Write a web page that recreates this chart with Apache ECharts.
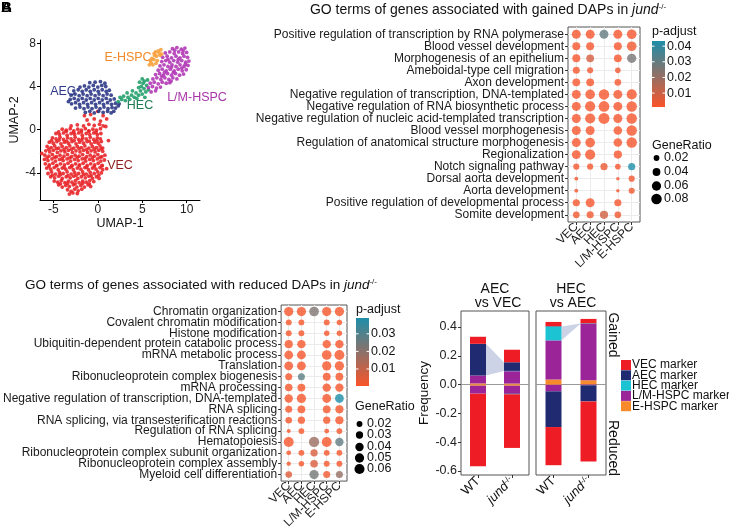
<!DOCTYPE html>
<html><head><meta charset="utf-8">
<script src="https://cdn.jsdelivr.net/npm/echarts@6/dist/echarts.min.js"></script>
<style>html,body{margin:0;padding:0;background:#fff}#c{width:729px;height:531px}</style>
</head><body><div id="c"></div><script>
const FONT='Liberation Sans, Arial, Helvetica, sans-serif';
// ---------- Panel A: UMAP ----------
const umapXTicks=[-5,0,5,10];
const umapYTicks=[-4,0,4,8];
const clusterNames=['VEC','AEC','HEC','L/M-HSPC','E-HSPC'];
const vecPts=[-3.4,-5.55,-3.0,-5.7,-2.6,-5.5,-2.2,-5.65,-1.8,-5.5,-2.8,-5.85,-2.3,-5.9,-3.2,-5.95,
-4.4,-5.1,-4.0,-5.3,-3.6,-5.15,-3.2,-5.25,-2.75,-5.1,-2.35,-5.3,-1.9,-5.15,-1.5,-5.3,-1.1,-5.1,-0.8,-5.25,
-4.9,-4.75,-4.5,-4.85,-4.1,-4.7,-3.7,-4.9,-3.3,-4.75,-2.9,-4.85,-2.5,-4.7,-2.1,-4.9,-1.7,-4.75,-1.3,-4.85,-0.9,-4.7,-0.45,-4.8,
-5.3,-4.35,-4.85,-4.45,-4.4,-4.3,-4.0,-4.5,-3.55,-4.35,-3.1,-4.45,-2.7,-4.3,-2.25,-4.5,-1.85,-4.35,-1.4,-4.45,-1.0,-4.3,-0.6,-4.5,-0.15,-4.35,0.15,-4.5,
-5.6,-4.05,-5.2,-3.9,-4.75,-4.1,-4.3,-3.95,-3.9,-4.05,-3.45,-3.9,-3.0,-4.1,-2.6,-3.95,-2.15,-4.05,-1.7,-3.9,-1.3,-4.1,-0.85,-3.95,-0.4,-4.05,0.0,-3.9,0.4,-4.0,
-5.75,-3.55,-5.3,-3.65,-4.9,-3.5,-4.45,-3.7,-4.0,-3.55,-3.6,-3.65,-3.15,-3.5,-2.75,-3.7,-2.3,-3.55,-1.9,-3.65,-1.45,-3.5,-1.05,-3.7,-0.6,-3.55,-0.2,-3.65,0.25,-3.5,0.55,-3.7,
-5.9,-3.15,-5.45,-3.25,-5.05,-3.1,-4.6,-3.3,-4.2,-3.15,-3.75,-3.25,-3.35,-3.1,-2.9,-3.3,-2.5,-3.15,-2.05,-3.25,-1.65,-3.1,-1.2,-3.3,-0.8,-3.15,-0.35,-3.25,0.05,-3.1,0.5,-3.3,
-6.0,-2.75,-5.6,-2.85,-5.15,-2.7,-4.75,-2.9,-4.3,-2.75,-3.9,-2.85,-3.45,-2.7,-3.05,-2.9,-2.6,-2.75,-2.2,-2.85,-1.75,-2.7,-1.35,-2.9,-0.9,-2.75,-0.5,-2.85,-0.05,-2.7,0.35,-2.9,0.75,-2.8,
-5.95,-2.35,-5.5,-2.45,-5.1,-2.3,-4.65,-2.5,-4.25,-2.35,-3.8,-2.45,-3.4,-2.3,-2.95,-2.5,-2.55,-2.35,-2.1,-2.45,-1.7,-2.3,-1.25,-2.5,-0.85,-2.35,-0.4,-2.45,0.0,-2.3,0.45,-2.5,0.8,-2.35,
-5.85,-1.95,-5.4,-2.05,-5.0,-1.9,-4.55,-2.1,-4.15,-1.95,-3.7,-2.05,-3.3,-1.9,-2.85,-2.1,-2.45,-1.95,-2.0,-2.05,-1.6,-1.9,-1.15,-2.1,-0.75,-1.95,-0.3,-2.05,0.1,-1.9,0.55,-2.0,
-5.7,-1.55,-5.25,-1.65,-4.85,-1.5,-4.4,-1.7,-4.0,-1.55,-3.55,-1.65,-3.15,-1.5,-2.7,-1.7,-2.3,-1.55,-1.85,-1.65,-1.45,-1.5,-1.0,-1.7,-0.6,-1.55,-0.15,-1.65,0.25,-1.5,0.55,-1.7,
-5.45,-1.15,-5.0,-1.25,-4.6,-1.1,-4.15,-1.3,-3.75,-1.15,-3.3,-1.25,-2.9,-1.1,-2.45,-1.3,-2.05,-1.15,-1.6,-1.25,-1.2,-1.1,-0.75,-1.3,-0.35,-1.15,0.05,-1.25,0.4,-1.1,
-5.1,-0.75,-4.7,-0.85,-4.25,-0.7,-3.85,-0.9,-3.4,-0.75,-3.0,-0.85,-2.55,-0.7,-2.15,-0.9,-1.7,-0.75,-1.3,-0.85,-0.85,-0.7,-0.45,-0.9,-0.05,-0.75,0.3,-0.85,
-4.7,-0.35,-4.3,-0.45,-3.85,-0.3,-3.45,-0.5,-3.0,-0.35,-2.6,-0.45,-2.15,-0.3,-1.75,-0.5,-1.3,-0.35,-0.9,-0.45,-0.45,-0.3,-0.05,-0.45,0.35,-0.35,
-4.0,0.05,-3.55,-0.05,-3.1,0.1,-2.7,-0.1,-2.25,0.05,-1.85,-0.05,-1.4,0.1,-1.0,-0.1,-0.55,0.05,-0.15,-0.05,0.3,0.1,
-3.0,0.35,-2.3,0.45,-1.6,0.35,-1.0,0.5,-0.4,0.4,0.2,0.5,0.6,0.35,
-1.2,0.9,-0.4,1.0,0.3,0.8,-0.8,1.4,0.6,1.3,0.0,1.7,-1.5,1.3,1.0,1.0,1.2,-1.0,1.0,-3.6,-6.3,-2.2,0.9,0.3,
-4.2,-5.0,-3.4,-4.95,-2.55,-5.0,-1.7,-4.95,-0.95,-5.0,
-5.1,-4.2,-4.2,-4.15,-3.35,-4.25,-2.45,-4.2,-1.6,-4.15,-0.75,-4.25,0.1,-4.2,
-5.5,-3.4,-4.65,-3.35,-3.8,-3.45,-2.95,-3.4,-2.1,-3.35,-1.25,-3.45,-0.4,-3.4,0.45,-3.35,
-5.7,-2.6,-4.85,-2.55,-4.0,-2.65,-3.15,-2.6,-2.3,-2.55,-1.45,-2.65,-0.6,-2.6,0.25,-2.55,
-5.5,-1.8,-4.65,-1.75,-3.8,-1.85,-2.95,-1.8,-2.1,-1.75,-1.25,-1.85,-0.4,-1.8,0.4,-1.75,
-5.2,-1.0,-4.35,-0.95,-3.5,-1.05,-2.65,-1.0,-1.8,-0.95,-0.95,-1.05,-0.1,-1.0,
-4.4,-0.2,-3.55,-0.15,-2.7,-0.25,-1.85,-0.2,-1.0,-0.15,-0.2,-0.25];
const aecPts=[-1.4,1.6,-0.9,1.7,-0.4,1.55,0.1,1.7,0.6,1.6,1.1,1.7,1.5,1.55,
-2.5,2.0,-2.0,2.1,-1.55,1.95,-1.1,2.1,-0.65,1.95,-0.2,2.1,0.25,1.95,0.7,2.1,1.15,1.95,1.6,2.05,2.0,2.0,
-2.95,2.4,-2.5,2.5,-2.05,2.35,-1.6,2.5,-1.15,2.35,-0.7,2.5,-0.25,2.35,0.2,2.5,0.65,2.35,1.1,2.5,1.55,2.35,2.0,2.45,2.4,2.4,
-3.1,2.8,-2.65,2.9,-2.2,2.75,-1.75,2.9,-1.3,2.75,-0.85,2.9,-0.4,2.75,0.05,2.9,0.5,2.75,0.95,2.9,1.4,2.75,1.85,2.85,
-3.0,3.2,-2.55,3.3,-2.1,3.15,-1.65,3.3,-1.2,3.15,-0.75,3.3,-0.3,3.15,0.15,3.3,0.6,3.15,1.05,3.3,1.5,3.2,
-2.7,3.6,-2.2,3.7,-1.75,3.55,-1.3,3.7,-0.85,3.55,-0.4,3.7,0.05,3.55,0.5,3.7,0.95,3.55,1.3,3.65,
-2.0,3.95,-1.5,4.05,-1.0,3.95,-0.5,4.1,0.0,3.95,0.45,4.1,0.9,4.0,
-0.9,4.35,-0.3,4.4,0.3,4.45,0.8,4.3,2.3,2.2,1.8,1.7,-3.3,2.6];
const hecPts=[2.3,2.6,2.7,2.8,3.1,2.7,2.9,3.1,3.4,3.0,3.8,3.2,3.6,2.8,4.1,3.0,4.3,3.4,4.6,3.2,4.8,3.6,5.0,3.3,5.2,3.8,4.9,4.0,5.4,3.5,5.1,4.3,5.5,4.1,4.6,3.9,5.3,3.0,4.4,2.9,5.6,4.6,5.0,4.7,3.9,3.6,3.3,3.4,2.5,3.0,5.7,3.7,4.7,4.4,5.25,4.5];
const lmPts=[8.4,7.5,8.9,7.6,9.4,7.45,9.8,7.55,
7.6,7.1,8.1,7.2,8.6,7.05,9.1,7.2,9.55,7.05,10.0,7.15,
7.3,6.7,7.8,6.8,8.3,6.65,8.8,6.8,9.25,6.65,9.7,6.8,10.1,6.7,
7.2,6.3,7.65,6.4,8.1,6.25,8.55,6.4,9.0,6.25,9.45,6.4,9.9,6.25,10.25,6.35,
7.0,5.9,7.45,6.0,7.9,5.85,8.35,6.0,8.8,5.85,9.25,6.0,9.7,5.85,10.15,5.95,
6.8,5.5,7.25,5.6,7.7,5.45,8.15,5.6,8.6,5.45,9.05,5.6,9.5,5.45,9.95,5.55,
6.5,5.1,6.95,5.2,7.4,5.05,7.85,5.2,8.3,5.05,8.75,5.2,9.2,5.05,9.65,5.15,
6.2,4.7,6.65,4.8,7.1,4.65,7.55,4.8,8.0,4.65,8.45,4.8,8.9,4.7,
5.9,4.3,6.35,4.4,6.8,4.25,7.25,4.4,7.7,4.3,8.1,4.35,
5.7,3.9,6.15,4.0,6.6,3.85,7.05,3.95,6.0,3.5,6.5,3.6,
8.65,7.35,9.6,7.3,7.9,6.5,9.05,6.5,8.3,5.8,9.45,5.7,7.5,5.3,8.5,5.3,9.85,6.05,7.2,4.95,8.25,4.5];
const ePts=[6.0,6.2,6.3,6.5,6.6,6.8,6.9,7.1,6.4,6.9,6.1,6.6,6.7,6.4,6.5,7.2,7.0,6.9,5.8,6.0,6.2,6.0,6.8,7.3,7.1,7.4,6.55,6.15,5.9,6.4,6.35,7.05,7.2,7.0];
const umapColors=['#E8262A','#2E3A87','#239E6C','#B23AB6','#F7A23E'];
const umapLabelColors=['#8E1B1B','#2E3A87','#1E7A50','#A834A8','#F08A2A'];

// ---------- Panel B / C: GO dot plots ----------
const cellTypes=['VEC','AEC','HEC','L/M-HSPC','E-HSPC'];
const gainedTerms=['Positive regulation of transcription by RNA polymerase','Blood vessel development','Morphogenesis of an epithelium','Ameboidal-type cell migration','Axon development','Negative regulation of transcription, DNA-templated','Negative regulation of RNA biosynthetic process','Negative regulation of nucleic acid-templated transcription','Blood vessel morphogenesis','Regulation of anatomical structure morphogenesis','Regionalization','Notch signaling pathway','Dorsal aorta development','Aorta development','Positive regulation of developmental process','Somite development'];
const gainedRatio=[
[0.055,0.055,0.055,0.055,0.066],
[0.042,0.042,null,0.042,0.066],
[0.042,0.040,null,0.040,0.060],
[0.031,0.023,null,0.019,null],
[0.040,0.040,null,0.028,null],
[0.055,0.066,0.080,0.055,0.075],
[0.055,0.075,0.085,0.055,0.080],
[0.055,0.075,0.090,0.055,0.080],
[0.055,0.055,null,0.050,0.080],
[0.055,0.066,null,0.050,0.080],
[0.055,0.075,null,0.045,null],
[0.023,0.023,0.033,0.019,0.033],
[0.010,null,null,0.009,0.023],
[0.010,null,null,0.009,0.023],
[0.033,0.055,null,0.033,null],
[0.028,0.033,0.045,0.028,null]];
const gainedPadj=[
[0.002,0.002,0.030,0.002,0.002],
[0.002,0.002,null,0.002,0.003],
[0.002,0.008,null,0.002,0.026],
[0.002,0.003,null,0.003,null],
[0.002,0.002,null,0.002,null],
[0.002,0.002,0.002,0.002,0.002],
[0.002,0.002,0.002,0.002,0.002],
[0.002,0.002,0.002,0.002,0.002],
[0.002,0.002,null,0.002,0.002],
[0.002,0.002,null,0.002,0.002],
[0.002,0.002,null,0.002,null],
[0.002,0.002,0.004,0.002,0.0433],
[0.002,null,null,0.002,0.003],
[0.002,null,null,0.002,0.003],
[0.002,0.002,null,0.002,null],
[0.003,0.003,0.009,0.003,null]];
const reducedTerms=['Chromatin organization','Covalent chromatin modification','Histone modification','Ubiquitin-dependent protein catabolic process','mRNA metabolic process','Translation','Ribonucleoprotein complex biogenesis','mRNA processing','Negative regulation of transcription, DNA-templated','RNA splicing','RNA splicing, via transesterification reactions','Regulation of RNA splicing','Hematopoiesis','Ribonucleoprotein complex subunit organization','Ribonucleoprotein complex assembly','Myeloid cell differentiation'];
const reducedRatio=[
[0.050,0.050,0.055,0.050,0.050],
[0.020,0.020,null,0.020,0.018],
[0.020,0.020,null,0.018,0.018],
[0.038,0.040,null,0.040,0.040],
[0.045,0.045,null,0.055,0.058],
[0.045,0.045,null,0.050,0.050],
[0.028,0.028,null,0.035,0.035],
[0.032,0.035,null,0.040,0.040],
[0.040,0.050,null,0.045,0.045],
[0.028,0.035,null,0.035,0.038],
[0.025,0.030,null,0.030,0.038],
[0.012,0.020,null,0.015,0.020],
[0.058,null,0.063,0.058,0.040],
[0.015,0.020,0.030,0.020,0.020],
[0.013,0.018,0.033,0.020,0.020],
[0.025,null,0.050,0.028,0.028]];
const reducedPadj=[
[0.001,0.001,0.022,0.001,0.001],
[0.001,0.001,null,0.001,0.001],
[0.001,0.001,null,0.001,0.001],
[0.001,0.001,null,0.001,0.001],
[0.001,0.001,null,0.001,0.001],
[0.001,0.001,null,0.001,0.001],
[0.001,0.028,null,0.001,0.001],
[0.001,0.001,null,0.001,0.001],
[0.001,0.001,null,0.001,0.039],
[0.001,0.001,null,0.001,0.001],
[0.001,0.001,null,0.001,0.001],
[0.001,0.001,null,0.001,0.001],
[0.001,null,0.017,0.001,0.027],
[0.001,0.001,0.006,0.001,0.001],
[0.001,0.001,0.006,0.001,0.001],
[0.005,null,0.024,0.002,0.018]];
const padjRangeB=[0.0011,0.0433], padjTicksB=[0.01,0.02,0.03,0.04], ratioTicksB=[0.02,0.04,0.06,0.08];
const padjRangeC=[0.0003,0.039], padjTicksC=[0.01,0.02,0.03], ratioTicksC=[0.02,0.03,0.04,0.05,0.06];

// ---------- Panel D: stacked frequencies ----------
const dGroups=['WT','jund'];
const dGroupSup=['','-/-'];
const markerNames=['VEC marker','AEC marker','HEC marker','L/M-HSPC marker','E-HSPC marker'];
const markerColors=['#EE1D25','#202A70','#1BC3D3','#9B2499','#F78A2A'];
// rows: VEC, AEC, HEC, L/M-HSPC, E-HSPC ; columns: WT, jund-/-
const aecVsVecGained=[[0.049,0.087],[0.220,0.060],[0.000,0.002],[0.055,0.086],[0.008,0.007]];
const aecVsVecReduced=[[-0.505,-0.372],[0,-0.005],[0,0],[-0.055,-0.055],[-0.008,-0.008]];
const hecVsAecGained=[[0.029,0.030],[0.003,0.002],[0.096,0.002],[0.272,0.392],[0.035,0.030]];
const hecVsAecReduced=[[-0.265,-0.418],[-0.248,-0.112],[0,0],[-0.045,-0.005],[-0.002,0]];
const dTicks=[-0.6,-0.4,-0.2,0,0.2,0.4];

// ---------- build ----------
const LOW='#FA5429', HIGH='#1E8EA9';
const sizeB=r=>2.5+8.5*Math.sqrt(Math.max(0,(r-0.008)/0.082));
const sizeC=r=>2.5+8*Math.sqrt(Math.max(0,(r-0.01)/0.056));
function pairs(a){const o=[];for(let i=0;i<a.length;i+=2)o.push([a[i],a[i+1]]);return o;}
function dots(ratio,padj){const o=[];ratio.forEach((row,i)=>row.forEach((r,j)=>{if(r!=null)o.push([j,i,r,padj[i][j]]);}));return o;}
const idx=n=>Array.from({length:n},(_,i)=>i);
// label positions padded with blank end entries so no real label is treated as the axis min/max label
const padded=n=>[-0.6].concat(idx(n),[n-0.4]);
const pick=(arr)=>v=>Number.isInteger(v)?(arr[v]||''):'';

const series=[];
[vecPts,aecPts,hecPts,lmPts,ePts].forEach((p,k)=>{
  series.push({type:'scatter',xAxisIndex:0,yAxisIndex:0,data:pairs(p),symbolSize:3.8,silent:true,
    itemStyle:{color:umapColors[k],opacity:0.9}});
});
const idxB=series.length;
series.push({type:'scatter',xAxisIndex:1,yAxisIndex:1,data:dots(gainedRatio,gainedPadj),symbolSize:d=>sizeB(d[2]),z:3,silent:true});
const idxC=series.length;
series.push({type:'scatter',xAxisIndex:2,yAxisIndex:2,data:dots(reducedRatio,reducedPadj),symbolSize:d=>sizeC(d[2]),z:3,silent:true});

function facet(gained,reduced,axis,link){
  for(let m=4;m>=0;m--){
    [gained,reduced].forEach((arr,s)=>{
      series.push({type:'bar',name:markerNames[m],xAxisIndex:axis,yAxisIndex:axis,stack:'f'+axis,stackStrategy:'samesign',
        barWidth:16,z:3,silent:true,itemStyle:{color:markerColors[m]},
        data:arr[m].slice(),
        markLine:(m===4&&s===0)?{silent:true,symbol:'none',label:{show:false},lineStyle:{color:'#999',width:1,type:'solid'},data:[{yAxis:0}],z:2}:undefined});
    });
  }
  series.push({type:'custom',xAxisIndex:axis,yAxisIndex:axis,z:1,silent:true,data:[0],
    renderItem:(params,api)=>{
      const lo=[0,0],hi=[0,0];
      for(let g=0;g<2;g++){let s=0;for(let m=4;m>link;m--)s+=gained[m][g];lo[g]=s;hi[g]=s+gained[link][g];}
      const p1=api.coord([0,lo[0]]),p2=api.coord([0,hi[0]]),p3=api.coord([1,hi[1]]),p4=api.coord([1,lo[1]]);
      const hw=8;
      return {type:'polygon',shape:{points:[[p1[0]+hw,p1[1]],[p2[0]+hw,p2[1]],[p3[0]-hw,p3[1]],[p4[0]-hw,p4[1]]]},style:{fill:'#CDD3E6'}};
    }});
}
facet(aecVsVecGained,aecVsVecReduced,3,1);
facet(hecVsAecGained,hecVsAecReduced,4,2);

const lab={fontFamily:FONT,color:'#1a1a1a',showMinLabel:false,showMaxLabel:false,hideOverlap:false};
function dotX(g){return {gridIndex:g,type:'value',min:-0.6,max:4.6,
  axisLine:{show:false},axisTick:{show:true,length:3,customValues:idx(5),lineStyle:{color:'#333'}},
  axisLabel:Object.assign({customValues:padded(5),rotate:45,fontSize:12,margin:3,formatter:pick(cellTypes)},lab),
  splitLine:{show:true,lineStyle:{color:'#ebebeb',width:1}}};}
function dotY(g,terms){return {gridIndex:g,type:'value',inverse:true,min:-0.6,max:terms.length-0.4,
  axisLine:{show:false},axisTick:{show:true,length:3,customValues:idx(terms.length),lineStyle:{color:'#333'}},
  axisLabel:Object.assign({customValues:padded(terms.length),fontSize:12,margin:4,formatter:pick(terms)},lab),
  splitLine:{show:true,lineStyle:{color:'#ebebeb',width:1}}};}
const supRich={n:{fontSize:13,color:'#111',fontFamily:FONT},i:{fontSize:13,fontStyle:'italic',color:'#111',fontFamily:FONT},s:{fontSize:8,color:'#111',fontFamily:FONT,verticalAlign:'top'}};
function dX(g){return {gridIndex:g,type:'category',data:dGroups,boundaryGap:true,axisLine:{show:false},
  axisTick:{show:true,length:3,alignWithLabel:true,lineStyle:{color:'#333'}},
  axisLabel:{rotate:45,margin:4,interval:0,hideOverlap:false,showMinLabel:true,showMaxLabel:true,rich:supRich,formatter:(v,k)=>k===0?'{n|'+dGroups[k]+'}':'{i|'+dGroups[k]+'}{s|'+dGroupSup[k]+'}'},
  splitLine:{show:false}};}
function dY(g,show){return {gridIndex:g,type:'value',min:-0.628,max:0.511,axisLine:{show:false},
  axisTick:{show:show,length:3,customValues:dTicks,lineStyle:{color:'#333'}},
  axisLabel:{show:show,customValues:dTicks,showMinLabel:true,showMaxLabel:true,hideOverlap:false,fontSize:12.5,color:'#222',fontFamily:FONT,margin:4,formatter:v=>v.toFixed(1)},
  splitLine:{show:false},
  name:show?'Frequency':'',nameLocation:'middle',nameGap:29,nameTextStyle:{fontSize:13.5,color:'#111',fontFamily:FONT}};}

const xAxis=[
 {gridIndex:0,type:'value',min:-6.5,max:11.5,axisLine:{show:true,onZero:false,lineStyle:{color:'#000'}},
  axisTick:{show:true,length:3,customValues:umapXTicks,lineStyle:{color:'#000'}},
  axisLabel:{customValues:umapXTicks,showMinLabel:true,showMaxLabel:true,hideOverlap:false,fontSize:12,color:'#222',fontFamily:FONT,margin:4},splitLine:{show:false},
  name:'UMAP-1',nameLocation:'middle',nameGap:17,nameTextStyle:{fontSize:12.5,color:'#111',fontFamily:FONT}},
 dotX(1),dotX(2),dX(3),dX(4)];
const yAxis=[
 {gridIndex:0,type:'value',min:-6.5,max:8.3,axisLine:{show:true,onZero:false,lineStyle:{color:'#000'}},
  axisTick:{show:true,length:3,customValues:umapYTicks,lineStyle:{color:'#000'}},
  axisLabel:{customValues:umapYTicks,showMinLabel:true,showMaxLabel:true,hideOverlap:false,fontSize:12,color:'#222',fontFamily:FONT,margin:4},splitLine:{show:false},
  name:'UMAP-2',nameLocation:'middle',nameGap:19,nameTextStyle:{fontSize:12.5,color:'#111',fontFamily:FONT}},
 dotY(1,gainedTerms),dotY(2,reducedTerms),dY(3,true),dY(4,false)];
xAxis.forEach(a=>{a.axisLine=Object.assign({onZero:false},a.axisLine);});
yAxis.forEach(a=>{a.axisLine=Object.assign({onZero:false},a.axisLine);});

const frame={show:true,borderColor:'#555',borderWidth:1,backgroundColor:'#fff'};
const grid=[
 {left:40,top:40,width:160,height:160},
 Object.assign({left:568,top:27,width:72,height:195},frame),
 Object.assign({left:277,top:305,width:70,height:177},frame),
 Object.assign({left:461,top:311,width:68,height:164},frame),
 Object.assign({left:536,top:311,width:70,height:164},frame)];

// ---------- graphic (titles, legends, labels) ----------
const g=[];
function txt(x,y,text,size,opt){g.push({type:'text',x:x,y:y,silent:true,style:Object.assign({text:text,fontSize:size,fontFamily:FONT,fill:'#111',align:'left',verticalAlign:'middle'},opt||{})});}
txt(1,8,'A',15,{fontWeight:'bold',fill:'#000'});
txt(1,8,'B',15,{fontWeight:'bold',fill:'#000'});
// UMAP cluster labels
const umapLabelPos=[[120,166],[63,92],[140,106],[197,98],[128,58]];
clusterNames.forEach((n,k)=>txt(umapLabelPos[k][0],umapLabelPos[k][1],n,12.5,{fill:umapLabelColors[k],align:'center'}));
// titles
function richTitle(x,y,pre,size){g.push({type:'text',x:x,y:y,silent:true,style:{text:'{n|'+pre+'}{i|jund}{s|-/-}',align:'center',verticalAlign:'middle',
  rich:{n:{fontSize:size,fontFamily:FONT,fill:'#111'},i:{fontSize:size,fontFamily:FONT,fontStyle:'italic',fill:'#111'},s:{fontSize:8,fontFamily:FONT,fill:'#111',verticalAlign:'top'}}}});}
richTitle(488,10,'GO terms of genes associated with gained DAPs in ',14);
richTitle(201,285,'GO terms of genes associated with reduced DAPs in ',13.5);
// colour & size legends
function padjLegend(x,yTop,yBot,range,ticks,titleY){
  txt(x,titleY,'p-adjust',12.5);
  g.push({type:'rect',silent:true,shape:{x:x,y:yTop,width:13,height:yBot-yTop},style:{fill:new echarts.graphic.LinearGradient(0,0,0,1,[{offset:0,color:HIGH},{offset:1,color:LOW}])}});
  ticks.forEach(t=>{const y=yBot-(t-range[0])/(range[1]-range[0])*(yBot-yTop);
    g.push({type:'line',silent:true,shape:{x1:x,y1:y,x2:x+2.5,y2:y},style:{stroke:'#fff',lineWidth:1}});
    g.push({type:'line',silent:true,shape:{x1:x+10.5,y1:y,x2:x+13,y2:y},style:{stroke:'#fff',lineWidth:1}});
    txt(x+15,y,t.toFixed(2),12.5);});
}
function ratioLegend(x,titleY,ys,ticks,sz){
  txt(x,titleY,'GeneRatio',12.5);
  ticks.forEach((t,k)=>{const d=sz(t);g.push({type:'circle',silent:true,shape:{cx:x+4.5,cy:ys[k],r:d/2},style:{fill:'#000'}});
    txt(x+12,ys[k],t.toFixed(2),12.5);});
}
padjLegend(652,41,107,padjRangeB,padjTicksB,32);
ratioLegend(652,146,[158,172,186,199],ratioTicksB,sizeB);
padjLegend(356,318,386,padjRangeC,padjTicksC,310);
ratioLegend(355,407,[424,435,447,458,469],ratioTicksC,sizeC);
// D facet strips
txt(495,289,'AEC',14,{align:'center'});txt(498,303,'vs VEC',14,{align:'center'});
txt(571,289,'HEC',14,{align:'center'});txt(573,303,'vs AEC',14,{align:'center'});
g.push({type:'text',x:613,y:335,rotation:-Math.PI/2,silent:true,style:{text:'Gained',fontSize:14,fontFamily:FONT,fill:'#111',align:'center',verticalAlign:'middle'}});
g.push({type:'text',x:613,y:448,rotation:-Math.PI/2,silent:true,style:{text:'Reduced',fontSize:14,fontFamily:FONT,fill:'#111',align:'center',verticalAlign:'middle'}});
// D legend
markerNames.forEach((n,k)=>{const y=365+k*10.3;
  g.push({type:'rect',silent:true,shape:{x:621,y:y-5,width:10,height:10},style:{fill:markerColors[k]}});
  txt(632,y,n,12);});

const chart=echarts.init(document.getElementById('c'),null,{renderer:'canvas'});
chart.setOption({animation:false,backgroundColor:'#fff',textStyle:{fontFamily:FONT},
  grid:grid,xAxis:xAxis,yAxis:yAxis,series:series,graphic:g,
  visualMap:[
   {type:'continuous',show:false,seriesIndex:idxB,dimension:3,min:padjRangeB[0],max:padjRangeB[1],inRange:{color:[LOW,HIGH]}},
   {type:'continuous',show:false,seriesIndex:idxC,dimension:3,min:padjRangeC[0],max:padjRangeC[1],inRange:{color:[LOW,HIGH]}}]});
</script></body></html>
